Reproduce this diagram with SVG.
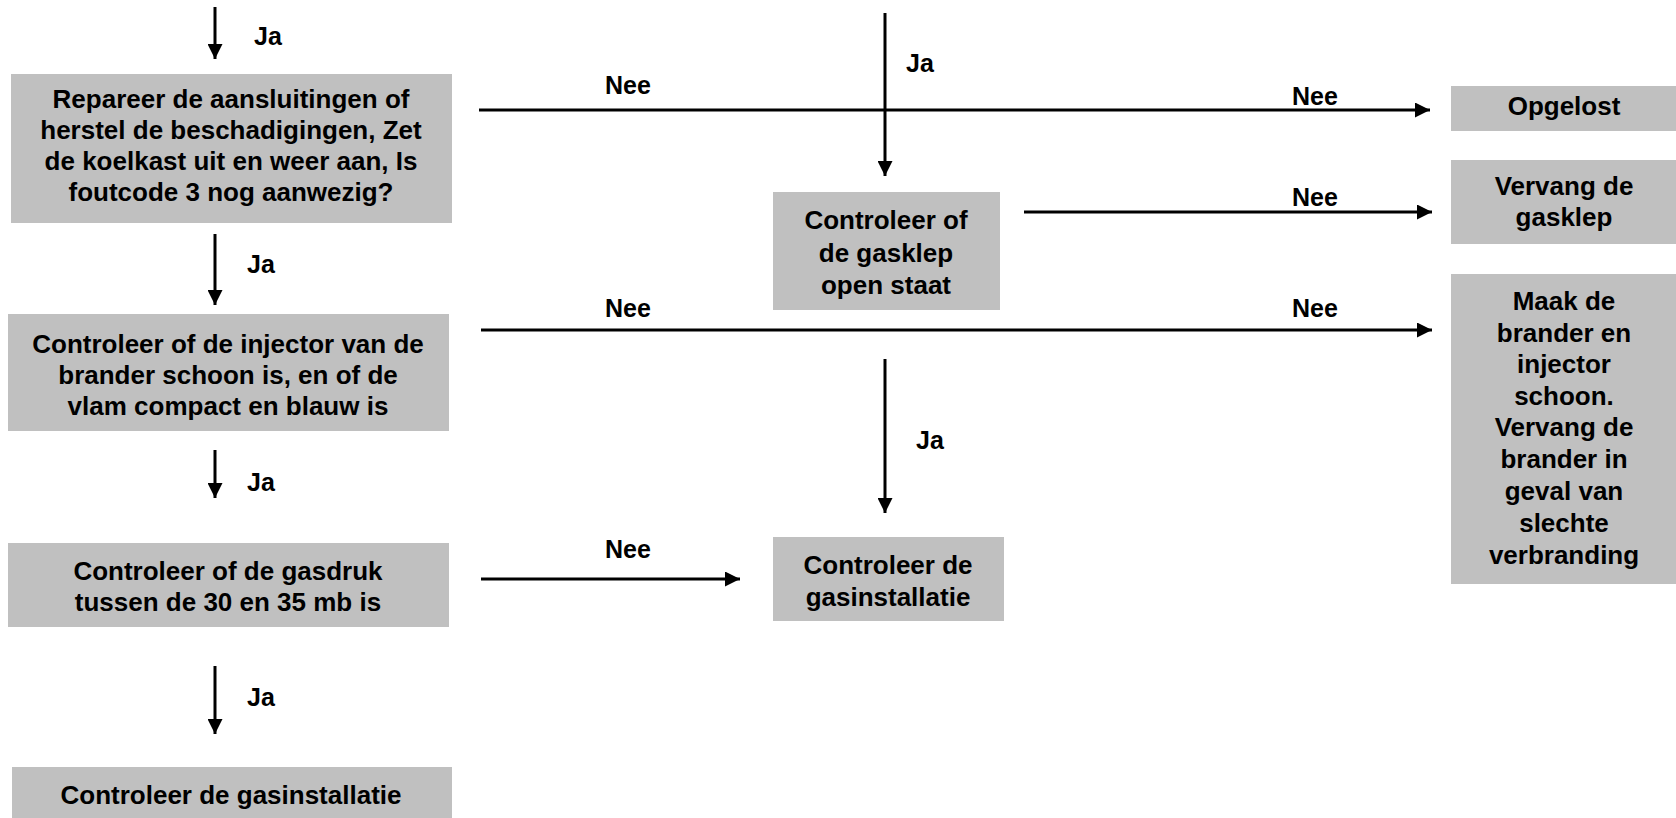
<svg xmlns="http://www.w3.org/2000/svg" width="1676" height="818" viewBox="0 0 1676 818">
<style>
.box{fill:#C0C0C0;stroke:none}
.t{font-family:"Liberation Sans",Arial,sans-serif;font-weight:bold;font-size:26px;fill:#000;text-anchor:middle}
.l{font-family:"Liberation Sans",Arial,sans-serif;font-weight:bold;font-size:25px;fill:#000;text-anchor:start}
.c{stroke:#000;stroke-width:3;fill:none}
</style>
<defs>
<marker id="ah" markerUnits="userSpaceOnUse" markerWidth="16" markerHeight="15" refX="15" refY="7.5" orient="auto">
<path d="M0,0 L15,7.5 L0,15 z" fill="#000"/>
</marker>
</defs>
<rect width="1676" height="818" fill="#fff"/>
<g id="connectors">
<line class="c" x1="215" y1="7" x2="215" y2="59" marker-end="url(#ah)"/>
<line class="c" x1="215" y1="234" x2="215" y2="305" marker-end="url(#ah)"/>
<line class="c" x1="215" y1="450" x2="215" y2="498" marker-end="url(#ah)"/>
<line class="c" x1="215" y1="666" x2="215" y2="734" marker-end="url(#ah)"/>
<line class="c" x1="885" y1="13" x2="885" y2="176" marker-end="url(#ah)"/>
<line class="c" x1="479" y1="110" x2="1430" y2="110" marker-end="url(#ah)"/>
<line class="c" x1="1024" y1="212" x2="1432" y2="212" marker-end="url(#ah)"/>
<line class="c" x1="481" y1="330" x2="1432" y2="330" marker-end="url(#ah)"/>
<line class="c" x1="885" y1="359" x2="885" y2="513" marker-end="url(#ah)"/>
<line class="c" x1="481" y1="579" x2="740" y2="579" marker-end="url(#ah)"/>
<text class="l" x="254" y="45">Ja</text>
<text class="l" x="247" y="273">Ja</text>
<text class="l" x="247" y="491">Ja</text>
<text class="l" x="247" y="706">Ja</text>
<text class="l" x="906" y="72">Ja</text>
<text class="l" x="916" y="449">Ja</text>
<text class="l" x="605" y="94">Nee</text>
<text class="l" x="605" y="317">Nee</text>
<text class="l" x="605" y="558">Nee</text>
<text class="l" x="1292" y="105">Nee</text>
<text class="l" x="1292" y="206">Nee</text>
<text class="l" x="1292" y="317">Nee</text>
</g>
<g id="n1">
<rect class="box" x="11" y="74" width="441" height="149"/>
<text class="t" x="231" y="108">Repareer de aansluitingen of</text>
<text class="t" x="231" y="139">herstel de beschadigingen, Zet</text>
<text class="t" x="231" y="170">de koelkast uit en weer aan, Is</text>
<text class="t" x="231" y="201">foutcode 3 nog aanwezig?</text>
</g>
<g id="n2">
<rect class="box" x="8" y="314" width="441" height="117"/>
<text class="t" x="228" y="353">Controleer of de injector van de</text>
<text class="t" x="228" y="384">brander schoon is, en of de</text>
<text class="t" x="228" y="415">vlam compact en blauw is</text>
</g>
<g id="n3">
<rect class="box" x="8" y="543" width="441" height="84"/>
<text class="t" x="228" y="580">Controleer of de gasdruk</text>
<text class="t" x="228" y="611">tussen de 30 en 35 mb is</text>
</g>
<g id="n4">
<rect class="box" x="12" y="767" width="440" height="51"/>
<text class="t" x="231" y="804">Controleer de gasinstallatie</text>
</g>
<g id="n5">
<rect class="box" x="773" y="192" width="227" height="118"/>
<text class="t" x="886" y="229">Controleer of</text>
<text class="t" x="886" y="262">de gasklep</text>
<text class="t" x="886" y="294">open staat</text>
</g>
<g id="n6">
<rect class="box" x="773" y="537" width="231" height="84"/>
<text class="t" x="888" y="574">Controleer de</text>
<text class="t" x="888" y="606">gasinstallatie</text>
</g>
<g id="n7">
<rect class="box" x="1451" y="86" width="225" height="45"/>
<text class="t" x="1564" y="115">Opgelost</text>
</g>
<g id="n8">
<rect class="box" x="1451" y="160" width="225" height="84"/>
<text class="t" x="1564" y="195">Vervang de</text>
<text class="t" x="1564" y="226">gasklep</text>
</g>
<g id="n9">
<rect class="box" x="1451" y="274" width="225" height="310"/>
<text class="t" x="1564" y="310">Maak de</text>
<text class="t" x="1564" y="342">brander en</text>
<text class="t" x="1564" y="373">injector</text>
<text class="t" x="1564" y="405">schoon.</text>
<text class="t" x="1564" y="436">Vervang de</text>
<text class="t" x="1564" y="468">brander in</text>
<text class="t" x="1564" y="500">geval van</text>
<text class="t" x="1564" y="532">slechte</text>
<text class="t" x="1564" y="564">verbranding</text>
</g>
</svg>
